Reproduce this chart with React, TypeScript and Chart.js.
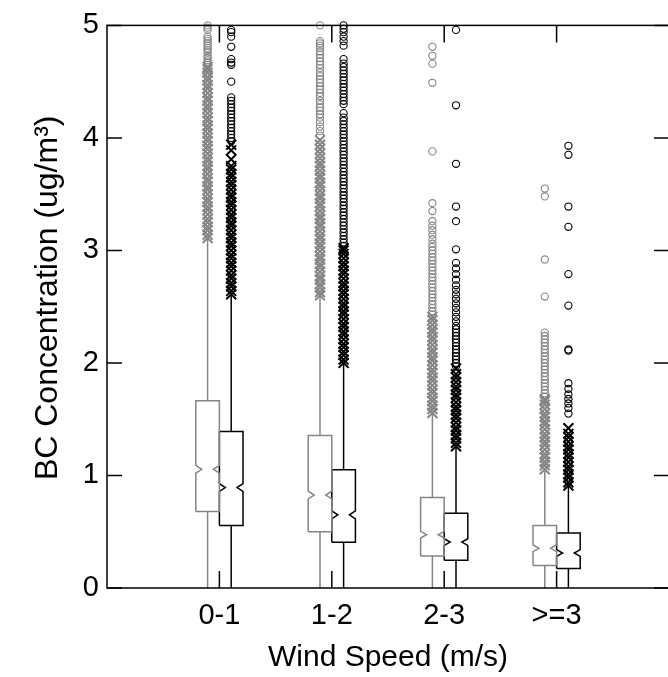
import React, { useEffect, useRef } from 'react';
import { Chart, registerables } from 'chart.js';

Chart.register(...registerables);

// ---------- data ----------
const categories = ['0-1', '1-2', '2-3', '>=3'];
const yTickValues = [0, 1, 2, 3, 4, 5];

// gray group (first box of each pair)
const grayQ1 = [0.68, 0.5, 0.285, 0.2];
const grayMedian = [1.055, 0.826, 0.474, 0.353];
const grayQ3 = [1.664, 1.355, 0.805, 0.556];
const grayWhiskerLow = [0, 0, 0, 0];
const grayWhiskerHigh = [3.11, 2.6, 1.555, 1.055];
const grayNotch = [0.035, 0.035, 0.03, 0.03];

// black group (second box of each pair)
const blackQ1 = [0.556, 0.406, 0.247, 0.174];
const blackMedian = [0.893, 0.65, 0.408, 0.311];
const blackQ3 = [1.39, 1.052, 0.664, 0.488];
const blackWhiskerLow = [0, 0, 0, 0];
const blackWhiskerHigh = [2.61, 2.0, 1.26, 0.91];
const blackNotch = [0.035, 0.035, 0.03, 0.03];

// outliers drawn as "x" (dense bands just above the whiskers)
const grayCross01 = [3.11, 3.14, 3.18, 3.21, 3.25, 3.28, 3.32, 3.36, 3.39, 3.43, 3.46, 3.5, 3.54, 3.57, 3.61, 3.64, 3.68, 3.72, 3.75, 3.79, 3.82, 3.86, 3.9, 3.93, 3.97, 4.0, 4.04, 4.08, 4.11, 4.15, 4.18, 4.22, 4.26, 4.29, 4.33, 4.36, 4.4, 4.44, 4.47, 4.51, 4.54, 4.58, 4.61, 4.63];
const grayCross12 = [2.6, 2.63, 2.67, 2.7, 2.74, 2.77, 2.81, 2.85, 2.88, 2.92, 2.95, 2.99, 3.03, 3.06, 3.1, 3.13, 3.17, 3.21, 3.24, 3.28, 3.31, 3.35, 3.39, 3.42, 3.46, 3.49, 3.53, 3.57, 3.6, 3.64, 3.67, 3.71, 3.75, 3.78, 3.82, 3.86, 3.9, 3.94, 3.98];
const grayCross23 = [1.555, 1.59, 1.62, 1.66, 1.69, 1.73, 1.76, 1.8, 1.84, 1.87, 1.91, 1.94, 1.98, 2.02, 2.05, 2.09, 2.12, 2.16, 2.2, 2.23, 2.27, 2.3, 2.34, 2.38, 2.41];
const grayCross3 = [1.055, 1.09, 1.12, 1.16, 1.19, 1.23, 1.27, 1.3, 1.34, 1.37, 1.41, 1.45, 1.48, 1.52, 1.55, 1.59, 1.63, 1.66, 1.675];

const blackCross01 = [2.61, 2.64, 2.68, 2.71, 2.75, 2.78, 2.82, 2.86, 2.89, 2.93, 2.96, 3.0, 3.04, 3.07, 3.11, 3.14, 3.18, 3.22, 3.25, 3.29, 3.32, 3.36, 3.4, 3.43, 3.47, 3.5, 3.54, 3.58, 3.61, 3.65, 3.68, 3.72, 3.75, 3.81, 3.89, 3.94];
const blackCross12 = [2.0, 2.03, 2.07, 2.1, 2.14, 2.17, 2.21, 2.25, 2.28, 2.32, 2.35, 2.39, 2.43, 2.46, 2.5, 2.53, 2.57, 2.61, 2.64, 2.68, 2.71, 2.75, 2.79, 2.82, 2.86, 2.89, 2.93, 2.97, 3.0, 3.02];
const blackCross23 = [1.26, 1.29, 1.33, 1.36, 1.4, 1.43, 1.47, 1.51, 1.54, 1.58, 1.61, 1.65, 1.69, 1.72, 1.76, 1.79, 1.83, 1.87, 1.9, 1.95];
const blackCross3 = [0.91, 0.94, 0.98, 1.01, 1.05, 1.08, 1.12, 1.16, 1.19, 1.23, 1.26, 1.3, 1.34, 1.37, 1.42];

// outliers drawn as "o"
const grayCircle01 = [4.65, 4.67, 4.69, 4.71, 4.73, 4.76, 4.78, 4.8, 4.82, 4.84, 4.86, 4.88, 4.9, 4.96, 4.98, 5.0];
const grayCircle12 = [4.02, 4.06, 4.1, 4.14, 4.18, 4.21, 4.24, 4.27, 4.3, 4.33, 4.37, 4.4, 4.43, 4.46, 4.49, 4.52, 4.55, 4.58, 4.62, 4.65, 4.68, 4.71, 4.74, 4.77, 4.8, 4.82, 4.84, 4.86, 5.0];
const grayCircle23 = [2.43, 2.46, 2.49, 2.52, 2.55, 2.58, 2.61, 2.64, 2.67, 2.7, 2.73, 2.76, 2.79, 2.82, 2.85, 2.88, 2.91, 2.94, 2.97, 3.0, 3.03, 3.06, 3.1, 3.14, 3.18, 3.22, 3.26, 3.35, 3.42, 3.88, 4.49, 4.66, 4.73, 4.81];
const grayCircle3 = [1.7, 1.73, 1.76, 1.79, 1.82, 1.85, 1.88, 1.91, 1.94, 1.97, 2.0, 2.03, 2.06, 2.09, 2.12, 2.15, 2.18, 2.21, 2.24, 2.27, 2.59, 2.92, 3.48, 3.55];

const blackCircle01 = [3.97, 4.0, 4.03, 4.06, 4.09, 4.12, 4.15, 4.18, 4.21, 4.24, 4.27, 4.3, 4.33, 4.36, 4.5, 4.65, 4.67, 4.7, 4.81, 4.9, 4.94, 4.96];
const blackCircle12 = [3.04, 3.07, 3.1, 3.13, 3.16, 3.19, 3.22, 3.25, 3.28, 3.31, 3.34, 3.37, 3.4, 3.43, 3.46, 3.49, 3.52, 3.55, 3.58, 3.61, 3.64, 3.67, 3.7, 3.73, 3.76, 3.79, 3.82, 3.85, 3.88, 3.91, 3.94, 3.97, 4.0, 4.03, 4.06, 4.09, 4.12, 4.15, 4.18, 4.22, 4.3, 4.33, 4.36, 4.39, 4.42, 4.45, 4.48, 4.51, 4.54, 4.57, 4.6, 4.63, 4.66, 4.7, 4.82, 4.86, 4.9, 4.94, 4.97, 5.0];
const blackCircle23 = [1.97, 2.0, 2.03, 2.06, 2.09, 2.12, 2.15, 2.18, 2.21, 2.24, 2.27, 2.3, 2.33, 2.37, 2.41, 2.45, 2.49, 2.53, 2.57, 2.61, 2.65, 2.69, 2.74, 2.79, 2.84, 2.89, 3.01, 3.26, 3.39, 3.77, 4.29, 4.96];
const blackCircle3 = [1.55, 1.6, 1.64, 1.68, 1.72, 1.77, 1.82, 2.11, 2.12, 2.51, 2.79, 3.21, 3.39, 3.85, 3.93];

const grayCross = [grayCross01, grayCross12, grayCross23, grayCross3];
const blackCross = [blackCross01, blackCross12, blackCross23, blackCross3];
const grayCircle = [grayCircle01, grayCircle12, grayCircle23, grayCircle3];
const blackCircle = [blackCircle01, blackCircle12, blackCircle23, blackCircle3];

// ---------- styling ----------
const GRAY = '#858585';
const BLACK = '#000000';
const GROUP_OFFSET = 0.105;
const BOX_HALF = 0.105;
const NOTCH_DEPTH = 0.053;
const FONT = '"Liberation Sans", Arial, Helvetica, sans-serif';

type Group = {
  color: string; sign: number; q1: number[]; med: number[]; q3: number[];
  wl: number[]; wh: number[]; notch: number[]; cross: number[][]; circle: number[][];
};

const groups: Group[] = [
  { color: GRAY, sign: -1, q1: grayQ1, med: grayMedian, q3: grayQ3, wl: grayWhiskerLow, wh: grayWhiskerHigh, notch: grayNotch, cross: grayCross, circle: grayCircle },
  { color: BLACK, sign: 1, q1: blackQ1, med: blackMedian, q3: blackQ3, wl: blackWhiskerLow, wh: blackWhiskerHigh, notch: blackNotch, cross: blackCross, circle: blackCircle },
];

function boxOutline(x: number, q1: number, med: number, q3: number, n: number) {
  const w = BOX_HALF;
  const d = NOTCH_DEPTH;
  return [
    { x: x - w, y: q1 }, { x: x - w, y: med - n }, { x: x - w + d, y: med }, { x: x - w, y: med + n }, { x: x - w, y: q3 },
    { x: x + w, y: q3 }, { x: x + w, y: med + n }, { x: x + w - d, y: med }, { x: x + w, y: med - n }, { x: x + w, y: q1 },
    { x: x - w, y: q1 },
  ];
}

function buildDatasets() {
  const ds: any[] = [];
  groups.forEach((g) => {
    categories.forEach((_, i) => {
      const x = i + 1 + g.sign * GROUP_OFFSET;
      const lineBase = {
        showLine: true, borderColor: g.color, borderWidth: 1.5, pointRadius: 0, fill: false,
        tension: 0, borderJoinStyle: 'miter', clip: false,
      };
      ds.push({ ...lineBase, data: [{ x, y: g.q3[i] }, { x, y: g.wh[i] }] });
      ds.push({ ...lineBase, data: [{ x, y: g.q1[i] }, { x, y: g.wl[i] }] });
      ds.push({ ...lineBase, data: boxOutline(x, g.q1[i], g.med[i], g.q3[i], g.notch[i]) });
      ds.push({
        data: g.cross[i].map((v) => ({ x, y: v })), showLine: false, pointStyle: 'crossRot',
        pointRadius: 7, borderColor: g.color, backgroundColor: g.color, borderWidth: 2, clip: false,
      });
      ds.push({
        data: g.circle[i].map((v) => ({ x, y: v })), showLine: false, pointStyle: 'circle',
        pointRadius: 3.6, borderColor: g.color, backgroundColor: 'rgba(0,0,0,0)', borderWidth: 1.1, clip: false,
      });
    });
  });
  return ds;
}

const framePlugin = {
  id: 'frame',
  afterDatasetsDraw(chart: any) {
    const { ctx, chartArea, scales } = chart;
    const { left, right, top, bottom } = chartArea;
    ctx.save();
    ctx.strokeStyle = '#000';
    ctx.lineWidth = 1.5;
    ctx.strokeRect(left, top, right - left, bottom - top);
    ctx.beginPath();
    scales.y.ticks.forEach((t: any) => {
      const py = scales.y.getPixelForValue(t.value);
      ctx.moveTo(left, py); ctx.lineTo(left + 15, py);
      ctx.moveTo(right, py); ctx.lineTo(right - 15, py);
    });
    scales.x.ticks.forEach((t: any) => {
      const px = scales.x.getPixelForValue(t.value);
      ctx.moveTo(px, bottom); ctx.lineTo(px, bottom - 17);
      ctx.moveTo(px, top); ctx.lineTo(px, top + 17);
    });
    ctx.stroke();
    ctx.restore();
  },
};

export default function App() {
  const ref = useRef<HTMLCanvasElement | null>(null);
  useEffect(() => {
    if (!ref.current) return;
    const chart = new Chart(ref.current, {
      type: 'scatter',
      data: { datasets: buildDatasets() },
      plugins: [framePlugin],
      options: {
        animation: false,
        responsive: false,
        events: [],
        layout: { padding: { left: 0, right: 31, top: 21, bottom: 0 } },
        plugins: { legend: { display: false }, tooltip: { enabled: false } },
        scales: {
          x: {
            type: 'linear', min: 0, max: 5,
            grid: { display: false, drawTicks: false },
            border: { display: false },
            afterBuildTicks: (scale: any) => { scale.ticks = categories.map((_, i) => ({ value: i + 1 })); },
            afterFit: (scale: any) => { scale.height = 89; },
            ticks: {
              autoSkip: false, maxRotation: 0, padding: 11, color: '#000',
              font: { family: FONT, size: 29 },
              callback: (v: any) => categories[Number(v) - 1] ?? '',
            },
            title: {
              display: true, text: 'Wind Speed (m/s)', color: '#000',
              font: { family: FONT, size: 30 }, padding: { top: 0, bottom: 1 },
            },
          },
          y: {
            type: 'linear', min: 0, max: 5,
            grid: { display: false, drawTicks: false },
            border: { display: false },
            afterBuildTicks: (scale: any) => { scale.ticks = yTickValues.map((v) => ({ value: v })); },
            afterFit: (scale: any) => { scale.width = 107; },
            ticks: { padding: 8, color: '#000', font: { family: FONT, size: 29 } },
            title: {
              display: true, text: '  BC Concentration (ug/m³)', color: '#000',
              font: { family: FONT, size: 32 }, padding: { top: 29, bottom: 0 },
            },
          },
        },
      } as any,
    });
    return () => chart.destroy();
  }, []);
  return (
    <canvas
      ref={ref}
      width={700}
      height={677}
      style={{ position: 'fixed', left: 0, top: 0, width: 700, height: 677 }}
    />
  );
}
